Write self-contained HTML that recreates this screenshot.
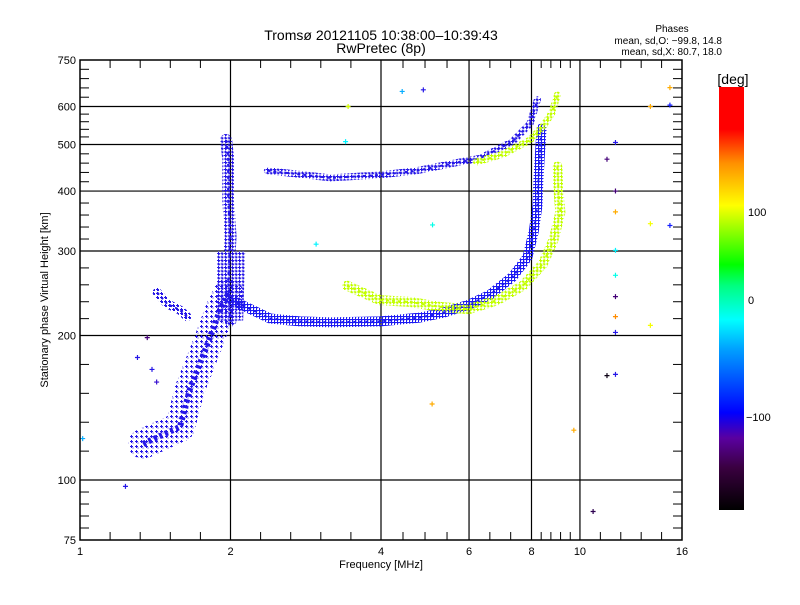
<!DOCTYPE html>
<html><head><meta charset="utf-8"><style>
body{margin:0;background:#fff;}
svg text{font-family:"Liberation Sans","DejaVu Sans",sans-serif;fill:#000;}
</style></head><body>
<svg id="chart" width="800" height="600" viewBox="0 0 800 600" xmlns="http://www.w3.org/2000/svg">
<defs id="defs">
<linearGradient id="cbar" x1="0" y1="1" x2="0" y2="0">
<stop offset="0" stop-color="#000"/><stop offset="0.1" stop-color="#3a0040"/><stop offset="0.17" stop-color="#5a00a0"/>
<stop offset="0.23" stop-color="#0000ff"/><stop offset="0.38" stop-color="#00a0ff"/><stop offset="0.45" stop-color="#00ffff"/>
<stop offset="0.53" stop-color="#00ff80"/><stop offset="0.58" stop-color="#00ff00"/><stop offset="0.72" stop-color="#ffff00"/>
<stop offset="0.82" stop-color="#ff9000"/><stop offset="0.9" stop-color="#ff0000"/><stop offset="1" stop-color="#ff0000"/>
</linearGradient>
<clipPath id="plotclip"><rect x="80" y="60" width="602" height="480"/></clipPath>
</defs>
<text x="381" y="40" font-size="14" text-anchor="middle">Tromsø 20121105 10:38:00–10:39:43</text>
<text x="381" y="53" font-size="14" text-anchor="middle">RwPretec (8p)</text>
<text x="672" y="32" font-size="10" text-anchor="middle">Phases</text>
<text x="722" y="44" font-size="10" text-anchor="end">mean, sd,O: −99.8, 14.8</text>
<text x="722" y="55" font-size="10" text-anchor="end">mean, sd,X:  80.7, 18.0</text>
<g id="grid"></g>
<g id="traces" clip-path="url(#plotclip)"></g>
<g id="points" clip-path="url(#plotclip)"></g>
<rect x="80" y="60" width="602" height="480" fill="none" stroke="#000" stroke-width="1.5"/>
<g id="axes"></g>
<text x="381" y="568" font-size="11" text-anchor="middle">Frequency [MHz]</text>
<text x="48" y="300" font-size="11" text-anchor="middle" transform="rotate(-90 48 300)">Stationary phase Virtual Height [km]</text>
<rect x="719" y="87" width="25" height="423" fill="url(#cbar)"/>
<text x="733" y="84" font-size="14" text-anchor="middle">[deg]</text>
<text x="748" y="216" font-size="11">100</text>
<text x="748" y="304" font-size="11">0</text>
<text x="746" y="421" font-size="11">−100</text>
</svg>
<script>
const xMajors=[1,2,4,6,8,10,16];
const xSubdiv=[5,5,4,3,5,5];
const xLabels=["1","2","4","6","8","10","16"];
const yMajors=[75,100,200,300,400,500,600,750];
const yLabels=["75","100","200","300","400","500","600","750"];
const xGrid=[2,4,6,8,10];
const yGrid=[100,200,300,400,500,600];
// traces: [freq MHz, height km]
const traceDiagF=[1.337,1.585,1.66,1.738,1.82,1.906,1.98];
const traceDiagH=[119,129,155,175,198,226,245];
const traceSpikeF=[1.96,1.98,1.98,2.0,1.98,2.0];
const traceSpikeH=[511,466,383,322,260,215];
const traceBranchF=[1.426,1.493,1.585,1.637];
const traceBranchH=[246,233,226,219];
const traceOF=[2.01,2.40,2.75,3.17,3.98,4.78,5.32,6.0,6.60,7.33,7.85,8.08,8.22,8.26,8.32,8.38];
const traceOH=[237,217,214,213,214,218,223,232,243,265,291,329,372,423,480,540];
const traceXF=[3.42,3.98,4.57,5.32,6.0,6.83,7.69,8.43,8.85,9.14,9.06,9.01];
const traceXH=[254,237,235,229,227,237,254,282,316,361,400,450];
const traceUpF=[2.37,3.17,3.98,4.72,5.76,6.31,7.33,7.95,8.22];
const traceUpH=[441,426,432,441,460,468,507,553,620];
const traceUpXF=[6.21,7.01,7.95,8.43,8.79,9.01];
const traceUpXH=[460,477,511,545,582,634];
const tracePhase=[-110,-110,-110,-105,95,-110,95];
// isolated points
const ptF=[1.01,1.23,4.4,4.85,3.43,3.39,2.96,5.06,5.05,9.7,10.6,11.75,11.75,11.75,11.75,11.75,11.75,11.75,11.75,11.75,11.3,11.3,13.8,13.8,13.8,15.1,15.1,15.1,1.39,1.36,1.3,1.42];
const ptH=[122,97,645,650,600,507,310,340,144,127,86,505,400,362,301,267,241,219,203,166,165,466,600,342,210,657,604,339,170,198,180,160];
const ptP=[-60,-110,-60,-110,100,-40,-40,-30,140,140,-160,-110,-150,140,-40,-30,-150,150,-110,-110,-175,-150,140,110,110,140,-100,-100,-110,-150,-110,-120];

const NS="http://www.w3.org/2000/svg";
const L2=Math.log2;
function xs(f){return 80+150.5*L2(f);}
function ys(h){return 540-480*Math.log10(h/75);}
function col(p){
  const st=[[-180,[0,0,0]],[-140,[90,0,160]],[-100,[20,30,255]],[-37,[0,255,255]],[0,[0,255,128]],[36,[0,255,0]],[113,[255,255,0]],[150,[255,140,0]],[190,[255,0,0]]];
  if(p<=st[0][0])return "rgb(0,0,0)";
  for(let i=1;i<st.length;i++){if(p<=st[i][0]){const t=(p-st[i-1][0])/(st[i][0]-st[i-1][0]);const a=st[i-1][1],b=st[i][1];
    return "rgb("+a.map((v,k)=>Math.round(v+(b[k]-v)*t)).join(",")+")";}}
  return "rgb(255,0,0)";
}
function mk(tag,attrs,parent){const e=document.createElementNS(NS,tag);for(const k in attrs)e.setAttribute(k,attrs[k]);parent.appendChild(e);return e;}
const defs=document.getElementById('defs');
let patN=0;
function pat(c,sz){const id='pp'+(patN++);
  const p=mk('pattern',{id:id,width:sz,height:sz,patternUnits:'userSpaceOnUse'},defs);
  mk('path',{d:'M0,1.5h3M1.5,0v3',stroke:c,'stroke-width':1},p);
  mk('rect',{x:sz/2,y:sz/2,width:1,height:1,fill:c},p);
  return 'url(#'+id+')';}
const grid=document.getElementById('grid'),axes=document.getElementById('axes'),tr=document.getElementById('traces'),pts=document.getElementById('points');
xGrid.forEach(f=>{const l=mk('line',{x1:xs(f),x2:xs(f),y1:60,y2:540,stroke:'#000','stroke-width':1.2},grid);

});
yGrid.forEach(h=>{const l=mk('line',{x1:80,x2:682,y1:ys(h),y2:ys(h),stroke:'#000','stroke-width':1.2},grid);

});
for(let i=0;i<xMajors.length-1;i++){const a=L2(xMajors[i]),b=L2(xMajors[i+1]);
  for(let j=1;j<xSubdiv[i];j++){const x=80+150.5*(a+(b-a)*j/xSubdiv[i]);
    const t1=mk('line',{x1:x,x2:x,y1:540,y2:532,stroke:'#000'},axes);
    
    
    const t2=mk('line',{x1:x,x2:x,y1:60,y2:68,stroke:'#000'},axes);
    
    }}
xMajors.forEach((f,i)=>{const t=mk('text',{x:xs(f),y:555,'font-size':11,'text-anchor':'middle'},axes);t.textContent=xLabels[i];

});
for(let i=0;i<yMajors.length-1;i++){const a=ys(yMajors[i]),b=ys(yMajors[i+1]);
  for(let j=1;j<5;j++){const y=a+(b-a)*j/5;
    const t1=mk('line',{x1:80,x2:89,y1:y,y2:y,stroke:'#000'},axes);
    
    
    const t2=mk('line',{x1:673,x2:682,y1:y,y2:y,stroke:'#000'},axes);
    
    }}
yMajors.forEach((h,i)=>{const t=mk('text',{x:76,y:ys(h)+4,'font-size':11,'text-anchor':'end'},axes);t.textContent=yLabels[i];

});
const traces=[[traceDiagF,traceDiagH,30,5],[traceSpikeF,traceSpikeH,12,3.5],[traceBranchF,traceBranchH,9,4],[traceOF,traceOH,10,3],[traceXF,traceXH,10,3.5],[traceUpF,traceUpH,7,3.5],[traceUpXF,traceUpXH,7,3.5]];
traces.forEach((t,i)=>{const d=t[0].map((f,k)=>(k?'L':'M')+xs(f).toFixed(1)+','+ys(t[1][k]).toFixed(1)).join('');
  const c=col(tracePhase[i]);
  const p=mk('path',{d:d,fill:'none',stroke:pat(c,t[3]),'stroke-width':t[2],'stroke-linejoin':'round','stroke-linecap':'round'},tr);
  
  
  const core=mk('path',{d:d,fill:'none',stroke:c,'stroke-width':Math.max(2,t[2]/5),'stroke-dasharray':'3 3','stroke-linejoin':'round'},tr);
  
  
});
const bulge=mk('path',{d:`M${xs(1.88)},${ys(300)}L${xs(2.14)},${ys(300)}L${xs(2.12)},${ys(215)}L${xs(1.88)},${ys(215)}Z`,fill:pat(col(-110),3.5)},tr);


ptF.forEach((f,i)=>{const x=xs(f),y=ys(ptH[i]);
  const m=mk('path',{d:`M${x-2},${y}h5M${x+0.5},${y-2.5}v5`,stroke:col(ptP[i]),'stroke-width':1.2},pts);
  
  });
</script>
</body></html>
